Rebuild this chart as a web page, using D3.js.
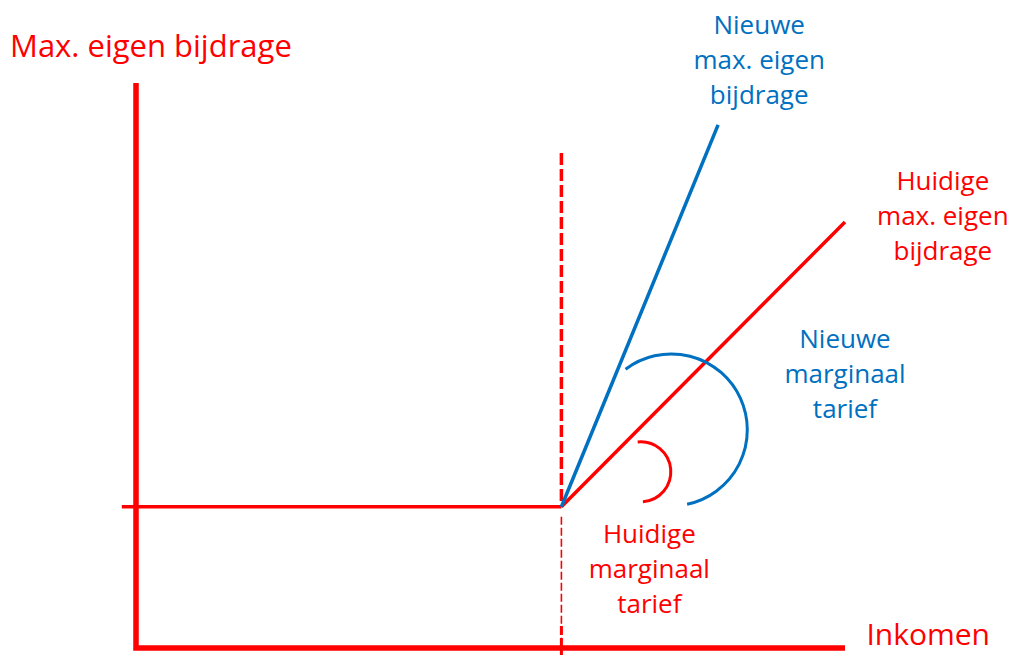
<!DOCTYPE html>
<html>
<head>
<meta charset="utf-8">
<script src="https://cdn.jsdelivr.net/npm/d3@7"></script>
<style>
  body { margin: 0; background: #fff; }
  svg { display: block; }
  text { font-family: "Open Sans", sans-serif; }
</style>
</head>
<body>
<div id="chart"></div>
<script>
// diagram values, in abstract units (income on x, contribution on y)
const threshold = 60;          // income where the max. contribution starts rising
const baseLevel = 25;          // flat max. eigen bijdrage
const flatLine = [[-2, 25], [60, 25]];
const currentLine = [[60, 25], [100, 75.4]];
const newLine = [[60, 25], [82.1, 92.6]];
const dashTop = 87.6;
const dashBottom = -1.3;

// arcs marking the marginal rates: centre (data units), radius (px), angles (deg)
const arcs = [
  { cx: 75.5, cy: 38.6, r: 76, a0: -37, a1: 168, color: "#0070C0" },
  { cx: 71.2, cy: 31.2, r: 30, a0: -6, a1: 176, color: "#FF0000" }
];

const labels = [
  { x: 87.9, lines: ["Nieuwe", "max. eigen", "bijdrage"], y: 108.6, color: "#0070C0" },
  { x: 113.8, lines: ["Huidige", "max. eigen", "bijdrage"], y: 81.0, color: "#FF0000" },
  { x: 100, lines: ["Nieuwe", "marginaal", "tarief"], y: 53.1, color: "#0070C0" },
  { x: 72.4, lines: ["Huidige", "marginaal", "tarief"], y: 18.6, color: "#FF0000" }
];

const width = 1013;
const height = 655;
const red = "#FF0000";
const blue = "#0070C0";

const x = d3.scaleLinear().domain([0, 100]).range([136, 845]);
const y = d3.scaleLinear().domain([0, 100]).range([648, 83]);

const svg = d3.select("#chart").append("svg")
    .attr("width", width)
    .attr("height", height);

const line = d3.line()
    .x(d => x(d[0]))
    .y(d => y(d[1]));

// axes
svg.append("path")
    .attr("d", line([[0, 100], [0, 0], [100, 0]]))
    .attr("fill", "none")
    .attr("stroke", red)
    .attr("stroke-width", 5.5);

// dashed threshold line
svg.append("line")
    .attr("x1", x(threshold)).attr("x2", x(threshold))
    .attr("y1", y(dashTop)).attr("y2", y(baseLevel))
    .attr("stroke", red)
    .attr("stroke-width", 3.5)
    .attr("stroke-dasharray", "12,4");

svg.append("line")
    .attr("x1", x(threshold)).attr("x2", x(threshold))
    .attr("y1", y(baseLevel) + 10).attr("y2", y(dashBottom))
    .attr("stroke", red)
    .attr("stroke-width", 1.6)
    .attr("stroke-dasharray", "8,3");

svg.append("line")
    .attr("x1", x(threshold)).attr("x2", x(threshold))
    .attr("y1", y(0) - 22).attr("y2", y(dashBottom))
    .attr("stroke", red)
    .attr("stroke-width", 3)
    .attr("stroke-dasharray", "9,3");

// flat and rising lines
svg.append("path")
    .attr("d", line(flatLine))
    .attr("fill", "none")
    .attr("stroke", red)
    .attr("stroke-width", 3.5);

svg.append("path")
    .attr("d", line(currentLine))
    .attr("fill", "none")
    .attr("stroke", red)
    .attr("stroke-width", 3.5);

svg.append("path")
    .attr("d", line(newLine))
    .attr("fill", "none")
    .attr("stroke", blue)
    .attr("stroke-width", 3.5);

// rate arcs
const rad = deg => (deg - 90) * Math.PI / 180;
arcs.forEach(a => {
  const p = d3.path();
  p.arc(x(a.cx), y(a.cy), a.r, rad(a.a0), rad(a.a1));
  svg.append("path")
      .attr("d", p.toString())
      .attr("fill", "none")
      .attr("stroke", a.color)
      .attr("stroke-width", 3);
});

// axis titles
svg.append("text")
    .attr("x", 10)
    .attr("y", 57)
    .attr("fill", red)
    .attr("font-size", 31)
    .text("Max. eigen bijdrage");

svg.append("text")
    .attr("x", 990)
    .attr("y", 645)
    .attr("text-anchor", "end")
    .attr("fill", red)
    .attr("font-size", 30)
    .text("Inkomen");

// annotations
labels.forEach(l => {
  const t = svg.append("text")
      .attr("x", x(l.x))
      .attr("y", y(l.y))
      .attr("text-anchor", "middle")
      .attr("fill", l.color)
      .attr("font-size", 26);
  l.lines.forEach((s, i) => {
    t.append("tspan")
        .attr("x", x(l.x))
        .attr("dy", i === 0 ? 0 : 35)
        .text(s);
  });
});
</script>
</body>
</html>
